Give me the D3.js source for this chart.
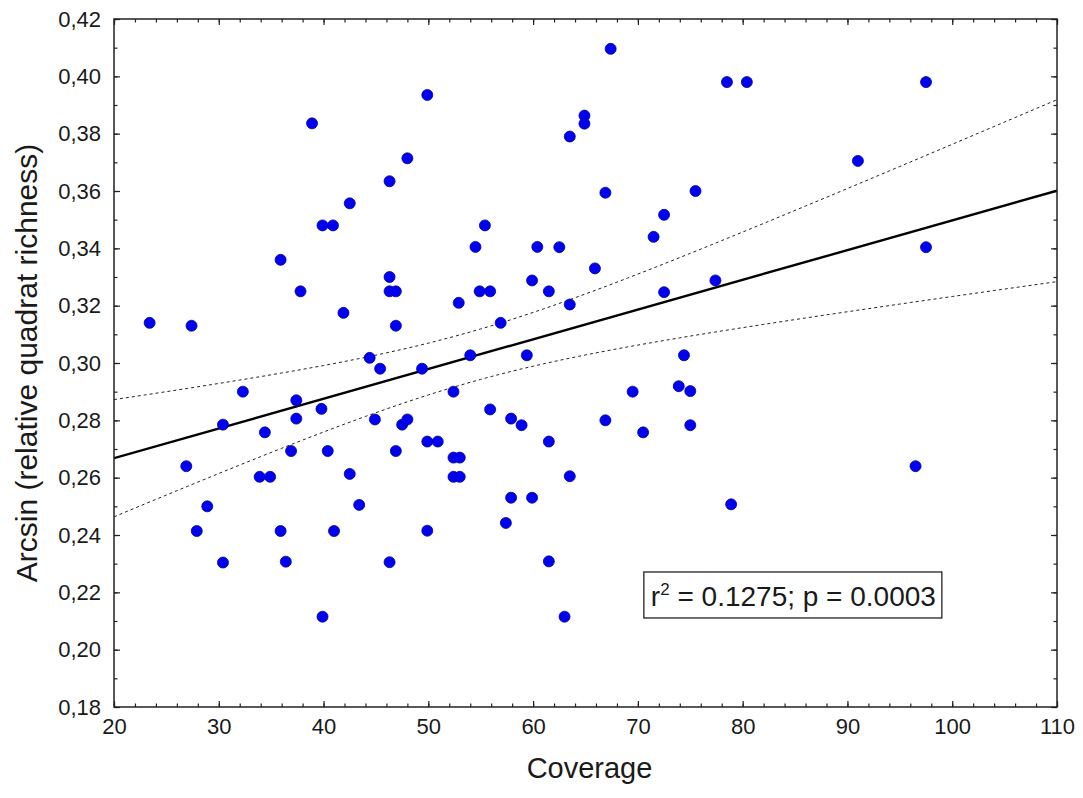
<!DOCTYPE html>
<html>
<head>
<meta charset="utf-8">
<script src="https://cdn.jsdelivr.net/npm/d3@7"></script>
<style>
  body { margin: 0; background: #fff; }
  text { font-family: Arial, "Liberation Sans", sans-serif; fill: #1a1a1a; }
</style>
</head>
<body>
<div id="chart"></div>
<script>
// coverage (x) and arcsin richness (y)
const coverage = [
  23.4, 27.4, 26.9, 27.9, 28.9, 30.4, 30.4, 32.3, 33.9, 34.9,
  34.4, 35.9, 35.9, 36.4, 36.9, 37.4, 37.4, 37.8, 38.9, 39.9,
  40.9, 39.8, 40.4, 41.0, 39.9, 41.9, 42.5, 42.5, 43.4, 44.4,
  44.9, 45.4, 46.3, 46.3, 46.3, 46.9, 46.9, 46.9, 46.3, 47.5,
  48.0, 48.0, 49.4, 49.9, 49.9, 50.9, 49.9, 52.4, 52.4, 53.0,
  52.4, 53.0, 52.9, 54.0, 54.5, 54.9, 55.9, 55.4, 55.9, 56.9,
  57.4, 57.9, 57.9, 58.9, 59.4, 59.9, 59.9, 60.4, 61.5, 61.5,
  61.5, 62.5, 63.0, 63.5, 63.5, 63.5, 64.9, 64.9, 65.9, 66.9,
  66.9, 67.4, 69.5, 70.5, 71.5, 72.5, 72.5, 73.9, 74.4, 75.0,
  75.0, 75.5, 77.4, 78.5, 78.9, 80.4, 91.0, 96.5, 97.5, 97.5
];
const richness = [
  0.314, 0.313, 0.264, 0.2414, 0.250, 0.2785, 0.2304, 0.290, 0.2603, 0.2603,
  0.2758, 0.336, 0.2414, 0.2307, 0.2693, 0.287, 0.2806, 0.325, 0.3836, 0.348,
  0.348, 0.284, 0.2693, 0.2414, 0.2115, 0.3175, 0.3557, 0.2613, 0.2505, 0.3018,
  0.2803, 0.298, 0.3634, 0.330, 0.325, 0.325, 0.313, 0.2693, 0.2305, 0.2785,
  0.2803, 0.3714, 0.298, 0.3935, 0.2726, 0.2726, 0.2415, 0.290, 0.267, 0.267,
  0.2603, 0.2603, 0.321, 0.3027, 0.3405, 0.325, 0.325, 0.348, 0.2838, 0.314,
  0.2442, 0.2806, 0.253, 0.2783, 0.3027, 0.3288, 0.253, 0.3405, 0.325, 0.2726,
  0.2308, 0.3404, 0.2115, 0.379, 0.3204, 0.2605, 0.3863, 0.3835, 0.333, 0.3594,
  0.280, 0.4096, 0.290, 0.2758, 0.344, 0.3517, 0.3247, 0.2919, 0.3027, 0.2902,
  0.2783, 0.360, 0.3288, 0.398, 0.2507, 0.398, 0.3705, 0.264, 0.398, 0.3404
];
const xTicks = [20, 30, 40, 50, 60, 70, 80, 90, 100, 110];
const yTicks = [0.18, 0.20, 0.22, 0.24, 0.26, 0.28, 0.30, 0.32, 0.34, 0.36, 0.38, 0.40, 0.42];
const statsLabel = ["r", "2", " = 0.1275; p = 0.0003"];

const width = 1083, height = 798;
const margin = { top: 19, right: 26, bottom: 91, left: 114 };
const innerW = width - margin.left - margin.right;
const innerH = height - margin.top - margin.bottom;

const svg = d3.select("#chart").append("svg")
    .attr("width", width)
    .attr("height", height);

const g = svg.append("g")
    .attr("transform", `translate(${margin.left},${margin.top})`);

const x = d3.scaleLinear().domain([20, 110]).range([0, innerW]);
const y = d3.scaleLinear().domain([0.18, 0.42]).range([innerH, 0]);

const comma = d => d3.format(".2f")(d).replace(".", ",");

// minor ticks first (inside the frame)
const xMinor = d3.range(20, 111, 2);
const yMinor = d3.range(0.18, 0.4201, 0.01);

g.append("g").attr("class", "minor")
    .attr("transform", `translate(0,${innerH})`)
    .call(d3.axisBottom(x).tickValues(xMinor).tickSizeInner(-3.5).tickSizeOuter(0).tickFormat(""));
g.append("g").attr("class", "minor")
    .call(d3.axisTop(x).tickValues(xMinor).tickSizeInner(-3.5).tickSizeOuter(0).tickFormat(""));
g.append("g").attr("class", "minor")
    .call(d3.axisLeft(y).tickValues(yMinor).tickSizeInner(-3.5).tickSizeOuter(0).tickFormat(""));
g.append("g").attr("class", "minor")
    .attr("transform", `translate(${innerW},0)`)
    .call(d3.axisRight(y).tickValues(yMinor).tickSizeInner(-3.5).tickSizeOuter(0).tickFormat(""));

// major ticks
const xAxis = g.append("g")
    .attr("transform", `translate(0,${innerH})`)
    .call(d3.axisBottom(x).tickValues(xTicks).tickSizeInner(-6).tickSizeOuter(0).tickPadding(11));
const yAxis = g.append("g")
    .call(d3.axisLeft(y).tickValues(yTicks).tickSizeInner(-6).tickSizeOuter(0).tickPadding(13).tickFormat(comma));
g.append("g")
    .call(d3.axisTop(x).tickValues(xTicks).tickSizeInner(-6).tickSizeOuter(0).tickFormat(""));
g.append("g")
    .attr("transform", `translate(${innerW},0)`)
    .call(d3.axisRight(y).tickValues(yTicks).tickSizeInner(-6).tickSizeOuter(0).tickFormat(""));

g.selectAll(".domain").remove();
g.selectAll(".tick line").attr("stroke", "#222").attr("stroke-width", 1.2);
[xAxis, yAxis].forEach(a => a.selectAll("text")
    .style("font-size", "22px")
    .style("font-family", "Arial, 'Liberation Sans', sans-serif")
    .attr("fill", "#1a1a1a"));

// linear fit with 95% confidence band
const n = coverage.length;
const mx = d3.mean(coverage), my = d3.mean(richness);
let sxx = 0, sxy = 0;
for (let i = 0; i < n; i++) {
  sxx += (coverage[i] - mx) ** 2;
  sxy += (coverage[i] - mx) * (richness[i] - my);
}
const slope = sxy / sxx, icpt = my - slope * mx;
let sse = 0;
for (let i = 0; i < n; i++) sse += (richness[i] - (icpt + slope * coverage[i])) ** 2;
const s = Math.sqrt(sse / (n - 2));
const tval = 1.986;
const grid = d3.range(20, 110.01, 1);
const half = xv => tval * s * Math.sqrt(1 / n + (xv - mx) ** 2 / sxx);

g.append("clipPath").attr("id", "plotclip")
    .append("rect").attr("width", innerW).attr("height", innerH);

const line = d3.line().x(d => x(d[0])).y(d => y(d[1]));
const fits = g.append("g").attr("clip-path", "url(#plotclip)");
fits.append("path")
    .datum(grid.map(v => [v, icpt + slope * v + half(v)]))
    .attr("d", line).attr("fill", "none")
    .attr("stroke", "#222").attr("stroke-width", 1).attr("stroke-dasharray", "3,3");
fits.append("path")
    .datum(grid.map(v => [v, icpt + slope * v - half(v)]))
    .attr("d", line).attr("fill", "none")
    .attr("stroke", "#222").attr("stroke-width", 1).attr("stroke-dasharray", "3,3");
fits.append("path")
    .datum([[20, icpt + slope * 20], [110, icpt + slope * 110]])
    .attr("d", line).attr("fill", "none")
    .attr("stroke", "#000").attr("stroke-width", 2.4);

// points
g.append("g").selectAll("circle")
    .data(coverage.map((c, i) => [c, richness[i]]))
    .enter()
    .append("circle")
    .attr("cx", d => x(d[0]))
    .attr("cy", d => y(d[1]))
    .attr("r", 5.5)
    .attr("fill", "#0000f0")
    .attr("stroke", "#00009a")
    .attr("stroke-width", 0.8);

// frame
g.append("rect")
    .attr("width", innerW).attr("height", innerH)
    .attr("fill", "none").attr("stroke", "#222").attr("stroke-width", 1.5);

// stats box
const box = g.append("g").attr("transform", `translate(${x(70.57)},${y(0.2271)})`);
box.append("rect")
    .attr("width", 298).attr("height", 46)
    .attr("fill", "#fff").attr("stroke", "#222").attr("stroke-width", 1.3);
const st = box.append("text")
    .attr("x", 7).attr("y", 34)
    .style("font-size", "28px");
st.append("tspan").text(statsLabel[0]);
st.append("tspan").attr("dy", -11).style("font-size", "17px").text(statsLabel[1]);
st.append("tspan").attr("dy", 11).text(statsLabel[2]);

// axis titles
svg.append("text")
    .attr("x", margin.left + innerW / 2 + 4)
    .attr("y", 778)
    .attr("text-anchor", "middle")
    .style("font-size", "29px")
    .text("Coverage");
svg.append("text")
    .attr("transform", `translate(37,${margin.top + innerH / 2}) rotate(-90)`)
    .attr("text-anchor", "middle")
    .style("font-size", "30px")
    .text("Arcsin (relative quadrat richness)");
</script>
</body>
</html>
